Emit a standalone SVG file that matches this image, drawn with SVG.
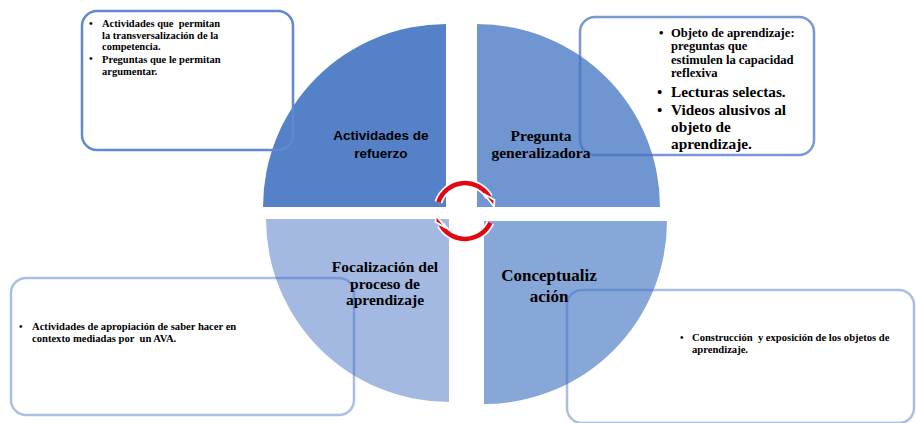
<svg xmlns="http://www.w3.org/2000/svg" width="916" height="423" viewBox="0 0 916 423">
<style>
.serif{font-family:"Liberation Serif","Times New Roman",serif;font-weight:bold;fill:#000;white-space:pre}
.sans{font-family:"Liberation Sans",Arial,sans-serif;font-weight:bold;fill:#000}
.box{fill:none;stroke-width:2.5}
.arcw{fill:none;stroke:#fff;stroke-width:8}
.arcr{fill:none;stroke:#E30613;stroke-width:4.5}
.head{fill:#E30613;stroke:#fff;stroke-width:1.8;stroke-linejoin:round}
</style>
<rect width="916" height="423" fill="#fff"/>
<g id="q-refuerzo">
<path d="M446,207 L263,207 A183,183 0 0 1 446,24 Z" fill="#5581C9"/>
</g>
<g id="q-pregunta">
<path d="M477,207 L477,24 A183,183 0 0 1 660,207 Z" fill="#7096D2"/>
</g>
<g id="q-focalizacion">
<path d="M449,219 L449,402 A183,183 0 0 1 266,219 Z" fill="#A3B9E1"/>
</g>
<g id="q-conceptualizacion">
<path d="M484,221 L667,221 A183,183 0 0 1 484,404 Z" fill="#88A7D9"/>
</g>
<g id="box-tl">
<rect class="box" x="82" y="11" width="211" height="139" rx="15" stroke="#5F89D0"/>
<text class="serif" font-size="10.5"><tspan x="89" y="27">•</tspan><tspan x="89" y="62">•</tspan></text>
<text class="serif" font-size="10.5" xml:space="preserve"><tspan x="102" y="27">Actividades que  permitan</tspan><tspan x="102" y="38.5">la transversalización de la</tspan><tspan x="102" y="50">competencia.</tspan><tspan x="102" y="63">Preguntas que le permitan</tspan><tspan x="102" y="74.5">argumentar.</tspan></text>
</g>
<g id="box-tr">
<rect class="box" x="580" y="17" width="234" height="138" rx="15" stroke="#4472C4" stroke-opacity="0.72"/>
<text class="serif" font-size="12.5"><tspan x="659" y="37">•</tspan></text>
<text class="serif" font-size="12.6"><tspan x="671" y="37">Objeto de aprendizaje:</tspan><tspan x="671" y="50.4">preguntas que</tspan><tspan x="671" y="63.8">estimulen la capacidad</tspan><tspan x="671" y="77.2">reflexiva</tspan></text>
<text class="serif" font-size="15"><tspan x="657" y="97">•</tspan><tspan x="657" y="115">•</tspan></text>
<text class="serif" font-size="15.3"><tspan x="671" y="97">Lecturas selectas.</tspan><tspan x="671" y="115">Videos alusivos al</tspan><tspan x="671" y="132">objeto de</tspan><tspan x="671" y="149">aprendizaje.</tspan></text>
</g>
<g id="box-bl">
<rect class="box" x="11" y="278" width="343" height="137" rx="15" stroke="#4472C4" stroke-opacity="0.45"/>
<text class="serif" font-size="10"><tspan x="19" y="330">•</tspan></text>
<text class="serif" font-size="10.6" xml:space="preserve"><tspan x="32" y="330">Actividades de apropiación de saber hacer en</tspan><tspan x="32" y="341.5">contexto mediadas por  un AVA.</tspan></text>
</g>
<g id="box-br">
<rect class="box" x="567" y="290" width="347" height="133" rx="15" stroke="#4472C4" stroke-opacity="0.45"/>
<text class="serif" font-size="10"><tspan x="680" y="341">•</tspan></text>
<text class="serif" font-size="10.6" xml:space="preserve"><tspan x="692" y="341">Construcción  y exposición de los objetos de</tspan><tspan x="692" y="352.5">aprendizaje.</tspan></text>
</g>
<g id="labels">
<text class="sans" font-size="13.5" text-anchor="middle"><tspan x="381" y="140">Actividades de</tspan><tspan x="381" y="158">refuerzo</tspan></text>
<text class="serif" font-size="15.5" text-anchor="middle"><tspan x="541" y="141">Pregunta</tspan><tspan x="541" y="158">generalizadora</tspan></text>
<text class="serif" font-size="15.5" text-anchor="middle"><tspan x="385" y="272">Focalización del</tspan><tspan x="385" y="289">proceso de</tspan><tspan x="385" y="305">aprendizaje</tspan></text>
<text class="serif" font-size="17" text-anchor="middle"><tspan x="549" y="281">Conceptualiz</tspan><tspan x="549" y="302">ación</tspan></text>
</g>
<g id="connectors">
<path class="arcw" d="M438.4,202.3 A28,28 0 0 1 489.2,197"/>
<path class="arcw" d="M490.4,222.8 A28,28 0 0 1 440.8,225"/>
<path class="arcr" d="M438.4,202.3 A28,28 0 0 1 489.2,197"/>
<path class="arcr" d="M490.4,222.8 A28,28 0 0 1 440.8,225"/>
<polygon class="head" points="483.9,194 494.5,200 494,206.5"/>
<polygon class="head" points="446,228 435.5,222 436,215.5"/>
</g>
</svg>
